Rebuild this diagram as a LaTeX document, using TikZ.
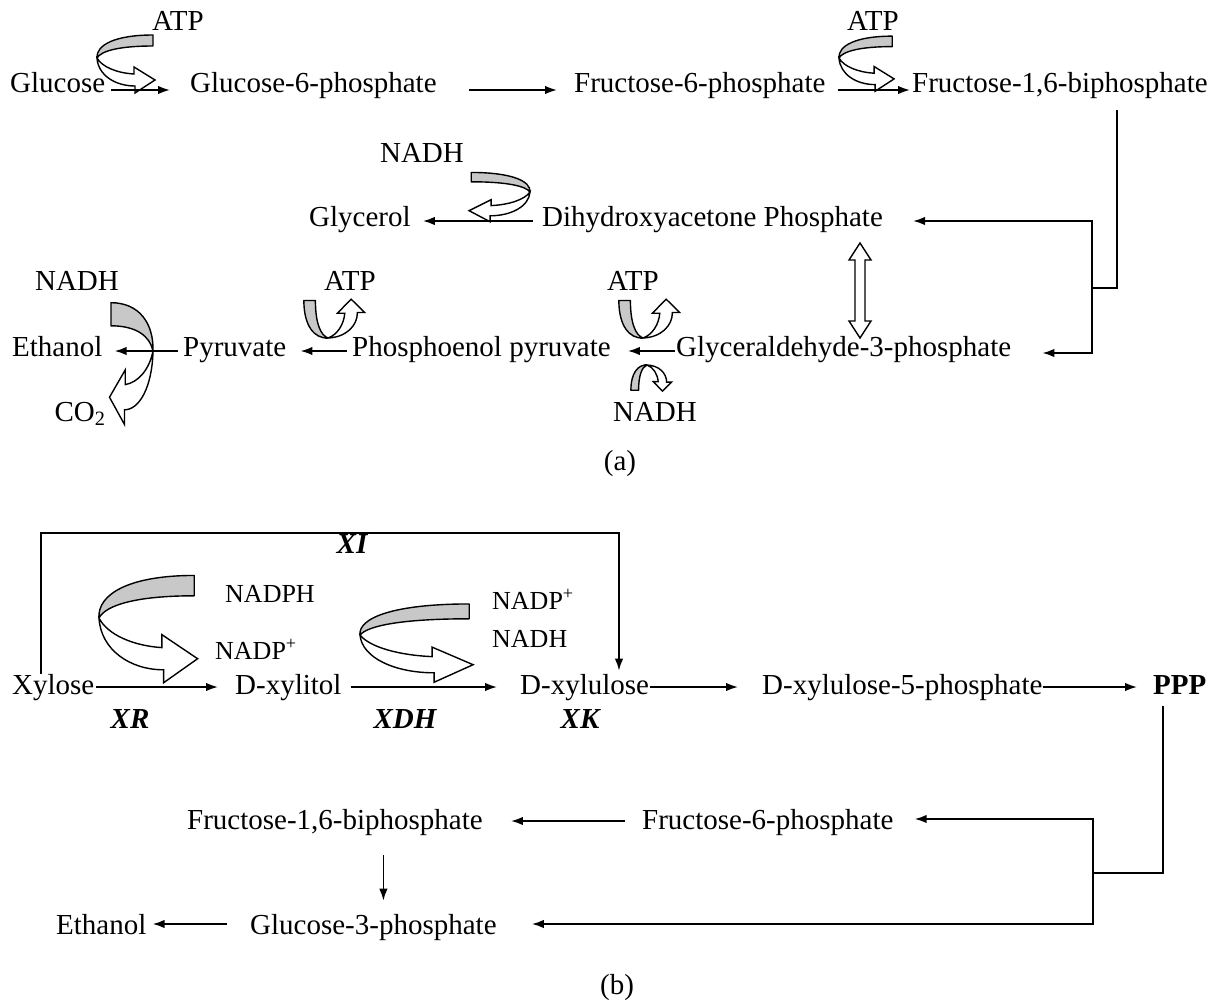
\documentclass[tikz,border=0pt]{standalone}
\usepackage{fontspec}
\setmainfont{Liberation Serif}
\usetikzlibrary{arrows.meta,calc}
\definecolor{ribbongray}{RGB}{200,200,200}

% Twisted ribbon arrow: grey back face, then white front face ending in a head.
% Drawn around the twist point (0,0); each use scales/rotates/mirrors it.
\tikzset{
  ribbonback/.style={fill=ribbongray, draw=black, line width=1.4pt, line join=round},
  ribbonfront/.style={fill=white, draw=black, line width=1.4pt, line join=miter},
  ribbon/.pic={
    \filldraw[ribbonback] (56,-23) .. controls (18,-23) and (-1,-13) .. (0,0)
        .. controls (4,-7) and (22,-12) .. (56,-12) -- cycle;
    \filldraw[ribbonfront] (0,0) .. controls (1,17) and (18,28) .. (38,28)
        -- (38,35) -- (58,22) -- (37,9) -- (37,16)
        .. controls (20,15) and (5,9) .. (0,0) -- cycle;
  }
}

\begin{document}
\begin{tikzpicture}[x=1pt,y=-1pt,
  every node/.style={inner sep=0pt, font=\fontsize{29}{34}\selectfont},
  lbl/.style={anchor=base west},
  tag/.style={anchor=base},
  small/.style={font=\fontsize{26}{30}\selectfont},
  enz/.style={anchor=base, font=\fontsize{29}{34}\selectfont\bfseries\itshape},
  link/.style={line width=1.8pt},
  flow/.style={link, -{Latex[length=12pt,width=8.5pt]}},
  openarrow/.style={fill=white, draw=black, line width=1.4pt, line join=miter}
]
\useasboundingbox (0,0) rectangle (1226,1006);

% ---------------- (a) glycolysis ----------------
\node[tag] (atp1) at (178,31) {ATP};
\node[tag] (atp2) at (873,31) {ATP};
\node[lbl] (glc) at (10,93) {Glucose};
\node[lbl] (g6p) at (190,93) {Glucose-6-phosphate};
\node[lbl] (f6p) at (574,93) {Fructose-6-phosphate};
\node[lbl] (fbp) at (912,93) {Fructose-1,6-biphosphate};

\node[tag] (nadh1) at (422,163) {NADH};
\node[lbl] (gly) at (309,226) {Glycerol};
\node[lbl] (dhap) at (542,226) {Dihydroxyacetone Phosphate};

\node[tag] (nadh2) at (77,290) {NADH};
\node[tag] (atp3) at (350,290) {ATP};
\node[tag] (atp4) at (633,290) {ATP};
\node[lbl] (eth) at (12,356) {Ethanol};
\node[lbl] (pyr) at (183,356) {Pyruvate};
\node[lbl] (pep) at (352,356) {Phosphoenol pyruvate};
\node[lbl] (gap) at (676,356) {Glyceraldehyde-3-phosphate};
\node[tag] (nadh3) at (655,421) {NADH};
\node[tag] (co2) at (80,421) {CO\textsubscript{2}};
\node[tag] (capa) at (620,470) {(a)};

% ribbons of part (a)
\begin{scope}[shift={(97,58)}] \pic[transform shape] {ribbon}; \end{scope}
\begin{scope}[shift={(839,58)}, scale=0.95] \pic[transform shape] {ribbon}; \end{scope}
\begin{scope}[shift={(530,192)}, xscale=-1.05, yscale=0.85] \pic[transform shape] {ribbon}; \end{scope}
\begin{scope}[shift={(153,351)}, xscale=-0.75, yscale=2.1] \pic[transform shape] {ribbon}; \end{scope}
\begin{scope}[shift={(328,338)}, cm={0,0.67,-1.05,0,(0,0)}] \pic[transform shape] {ribbon}; \end{scope}
\begin{scope}[shift={(643,338)}, cm={0,0.67,-1.05,0,(0,0)}] \pic[transform shape] {ribbon}; \end{scope}
\begin{scope}[shift={(647,365)}, cm={0,-0.45,-0.7,0,(0,0)}] \pic[transform shape] {ribbon}; \end{scope}

% reversible step between the two triose phosphates
\filldraw[openarrow] (860,243) -- (871,260) -- (865,260) -- (865,321) -- (871,321)
  -- (860,338) -- (849,321) -- (855,321) -- (855,260) -- (849,260) -- cycle;

% row connectors of part (a)
\draw[flow] ([xshift=6pt,yshift=3pt]glc.base east) -- ([xshift=-20pt,yshift=3pt]g6p.base west);
\draw[flow] ([xshift=32pt,yshift=3pt]g6p.base east) -- ([xshift=-17pt,yshift=3pt]f6p.base west);
\draw[flow] ([xshift=12pt,yshift=3pt]f6p.base east) -- ([xshift=-2pt,yshift=3pt]fbp.base west);
\draw[flow] ([xshift=-9pt,yshift=5pt]dhap.base west) -- ([xshift=12pt,yshift=5pt]gly.base east);
\draw[flow] ([xshift=-5pt,yshift=5pt]pyr.base west) -- ([xshift=12pt,yshift=5pt]eth.base east);
\draw[flow] ([xshift=-5pt,yshift=5pt]pep.base west) -- ([xshift=14pt,yshift=5pt]pyr.base east);
\draw[flow] ([xshift=-1pt,yshift=5pt]gap.base west) -- ([xshift=17pt,yshift=5pt]pep.base east);

% split of fructose-1,6-biphosphate
\coordinate (jA) at (1092,288);
\draw[link] ([xshift=57pt,yshift=-11pt]fbp.south) |- (jA);
\draw[flow] (jA) |- ([xshift=30pt,yshift=5pt]dhap.base east);
\draw[flow] (jA) |- ([xshift=31pt,yshift=3pt]gap.base east);

% ---------------- (b) xylose pathway ----------------
\coordinate (brkL) at (41,533);
\coordinate (brkR) at (619,533);
\node[enz] (xi) at (352,553) {XI};
\node[tag, small] (nadph) at (270,602) {NADPH};
\node[lbl, small] (nadp1) at (215,659) {NADP\textsuperscript{+}};
\node[lbl, small] (nadp2) at (492,609) {NADP\textsuperscript{+}};
\node[lbl, small] (nadh4) at (492,647) {NADH};

\node[lbl] (xyl) at (12,694) {Xylose};
\node[lbl] (xol) at (235,694) {D-xylitol};
\node[lbl] (xlu) at (520,694) {D-xylulose};
\node[lbl] (x5p) at (762,694) {D-xylulose-5-phosphate};
\node[lbl, font=\fontsize{29}{34}\selectfont\bfseries] (ppp) at (1153,694) {PPP};
\node[enz] (xr) at (130,728) {XR};
\node[enz] (xdh) at (405,728) {XDH};
\node[enz] (xk) at (580,728) {XK};

\node[lbl] (f16b) at (187,829) {Fructose-1,6-biphosphate};
\node[lbl] (f6pb) at (642,829) {Fructose-6-phosphate};
\node[lbl] (ethb) at (56,934) {Ethanol};
\node[lbl] (g3p) at (250,934) {Glucose-3-phosphate};
\node[tag] (capb) at (617,994) {(b)};

% ribbons of part (b)
\begin{scope}[shift={(99,618)}, xscale=1.7, yscale=1.85] \pic[transform shape] {ribbon}; \end{scope}
\begin{scope}[shift={(360,635)}, xscale=1.95, yscale=1.35] \pic[transform shape] {ribbon}; \end{scope}

% xylose isomerase bypass
\draw[flow] (brkL |- xyl.north) -- (brkL) -- (brkR) -- ([yshift=3pt]brkR |- xlu.north);

% row connectors of part (b)
\draw[flow] ([xshift=1pt,yshift=7pt]xyl.base east) -- ([xshift=-17pt,yshift=7pt]xol.base west);
\draw[flow] ([xshift=9pt,yshift=7pt]xol.base east) -- ([xshift=-23pt,yshift=7pt]xlu.base west);
\draw[flow] ([xshift=1pt,yshift=7pt]xlu.base east) -- ([xshift=-24pt,yshift=7pt]x5p.base west);
\draw[flow] ([yshift=7pt]x5p.base east) -- ([xshift=-16pt,yshift=7pt]ppp.base west);

\coordinate (jB) at (1093,873);
\draw[link] ([xshift=-17pt,yshift=-12pt]ppp.south) |- (jB);
\draw[flow] (jB) |- ([xshift=21pt,yshift=10pt]f6pb.base east);
\draw[flow] (jB) |- ([xshift=35pt,yshift=10pt]g3p.base east);
\draw[flow] ([xshift=-17pt,yshift=8pt]f6pb.base west) -- ([xshift=28pt,yshift=8pt]f16b.base east);
\draw[flow] ([xshift=10pt,yshift=-20pt]g3p.north |- f16b.south) -- ([xshift=10pt,yshift=13pt]g3p.north);
\draw[flow] ([xshift=-23pt,yshift=10pt]g3p.base west) -- ([xshift=6pt,yshift=10pt]ethb.base east);
\end{tikzpicture}
\end{document}
